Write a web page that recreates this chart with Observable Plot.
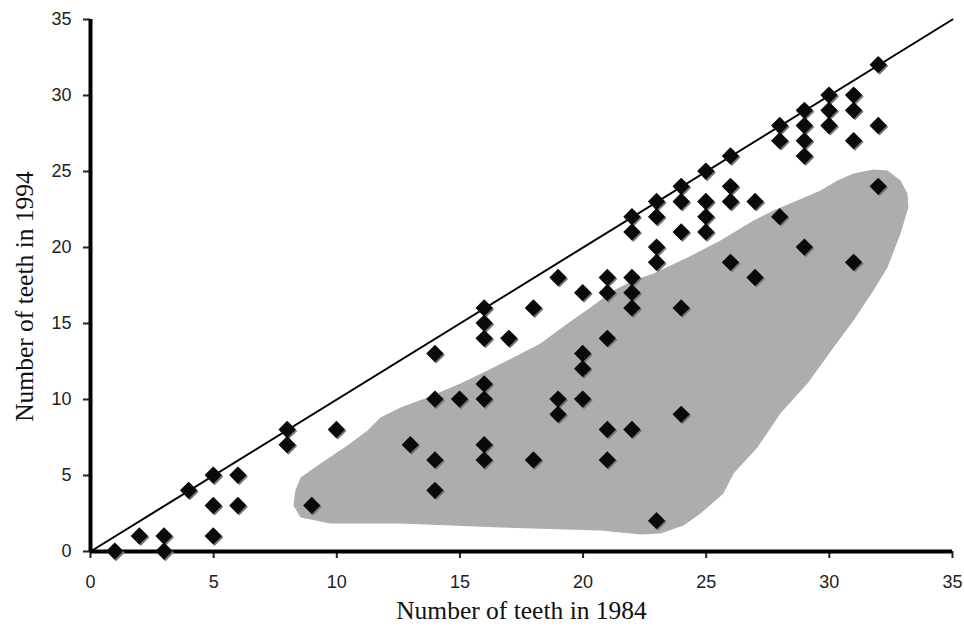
<!DOCTYPE html>
<html>
<head>
<meta charset="utf-8">
<script src="https://cdn.jsdelivr.net/npm/d3@7"></script>
<script src="https://cdn.jsdelivr.net/npm/@observablehq/plot@0.6"></script>
<style>
  html, body { margin: 0; padding: 0; background: #fff; }
</style>
</head>
<body>
<div id="chart"></div>
<script>
// Number of teeth per subject
const teeth1984 = [1,2,3,3,4,5,5,5,6,6,8,8,9,10,13,14,14,14,14,15,16,16,16,16,16,16,16,17,18,18,19,19,19,20,20,20,20,21,21,21,21,21,22,22,22,22,22,22,23,23,23,23,23,24,24,24,24,24,25,25,25,25,26,26,26,26,27,27,28,28,28,29,29,29,29,29,30,30,30,31,31,31,31,32,32,32];
const teeth1994 = [0,1,1,0,4,5,3,1,5,3,8,7,3,8,7,13,10,6,4,10,16,15,14,11,10,7,6,14,16,6,18,10,9,17,13,12,10,18,17,14,8,6,22,21,18,17,16,8,23,22,20,19,2,24,23,21,16,9,25,23,22,21,26,24,23,19,23,18,28,27,22,29,28,27,26,20,30,29,28,30,29,27,19,32,28,24];

// Outline of the shaded region (approximate)
const blobX = [8.32,8.24,8.53,9.74,12.59,16.65,20.71,22.33,23.14,24.08,24.77,25.70,26.11,27.08,28.01,29.11,30.17,30.98,31.79,32.36,32.89,33.21,33.17,32.89,32.36,31.79,30.98,30.33,29.64,28.70,27.73,26.92,25.58,24.24,22.86,22.05,21.23,20.30,19.37,18.27,17.17,16.12,15.02,13.68,12.59,11.77,11.25,10.43,9.34,8.53];
const blobY = [4.01,3.03,2.24,1.84,1.84,1.58,1.38,1.12,1.18,1.71,2.50,3.82,5.13,6.84,9.08,11.05,13.42,15.20,17.17,18.68,20.92,22.63,23.55,24.41,25.07,25.13,24.87,24.41,23.75,23.09,22.43,21.78,20.46,19.34,18.29,17.83,17.17,16.05,15.00,13.68,12.76,11.91,11.05,10.13,9.47,8.82,7.96,6.97,5.79,4.87];

const xTicks = [0,5,10,15,20,25,30,35];
const yTicks = [0,5,10,15,20,25,30,35];
const identityLine = [0, 35];
const xTitle = "Number of teeth in 1984";
const yTitle = "Number of teeth in 1994";

const points = teeth1984.map((x, i) => ({x, y: teeth1994[i]}));
const blob = blobX.map((x, i) => ({x, y: blobY[i]}));

const chart = Plot.plot({
  width: 964,
  height: 628,
  marginLeft: 90,
  marginRight: 12,
  marginTop: 19,
  marginBottom: 77,
  style: {fontFamily: "Liberation Sans, Arial, sans-serif", fontSize: "18px", color: "#222", background: "#fff"},
  x: {domain: [0, 35]},
  y: {domain: [0, 35]},
  marks: [
    Plot.line(blob, {x: "x", y: "y", fill: "#adadad", stroke: "none", curve: "linear-closed"}),
    Plot.line(identityLine, {x: d => d, y: d => d, stroke: "#000", strokeWidth: 2}),
    Plot.axisX({ticks: xTicks, tickSize: 7, tickPadding: 17, strokeWidth: 2, label: null, fontSize: 18}),
    Plot.axisY({ticks: yTicks, tickSize: 7, tickPadding: 12, strokeWidth: 2, label: null, fontSize: 18}),
    Plot.ruleX([0], {stroke: "#000", strokeWidth: 4}),
    Plot.ruleY([0], {stroke: "#000", strokeWidth: 4}),
    Plot.dot(points, {x: "x", y: "y", symbol: "diamond2", r: 7.8, fill: "#777", stroke: "none", dx: 1, dy: 1}),
    Plot.dot(points, {x: "x", y: "y", symbol: "diamond2", r: 7.8, fill: "#0a0a0a", stroke: "none", dx: -0.4, dy: -0.4}),
    Plot.text([xTitle], {frameAnchor: "bottom", dy: 67, text: d => d, fontFamily: "Liberation Serif, Times New Roman, serif", fontSize: 25.5, fill: "#111", textAnchor: "middle"}),
    Plot.text([yTitle], {frameAnchor: "left", dx: -66, dy: 11, text: d => d, rotate: -90, fontFamily: "Liberation Serif, Times New Roman, serif", fontSize: 25.5, fill: "#111", textAnchor: "middle"})
  ]
});
document.getElementById("chart").appendChild(chart);
</script>
</body>
</html>
